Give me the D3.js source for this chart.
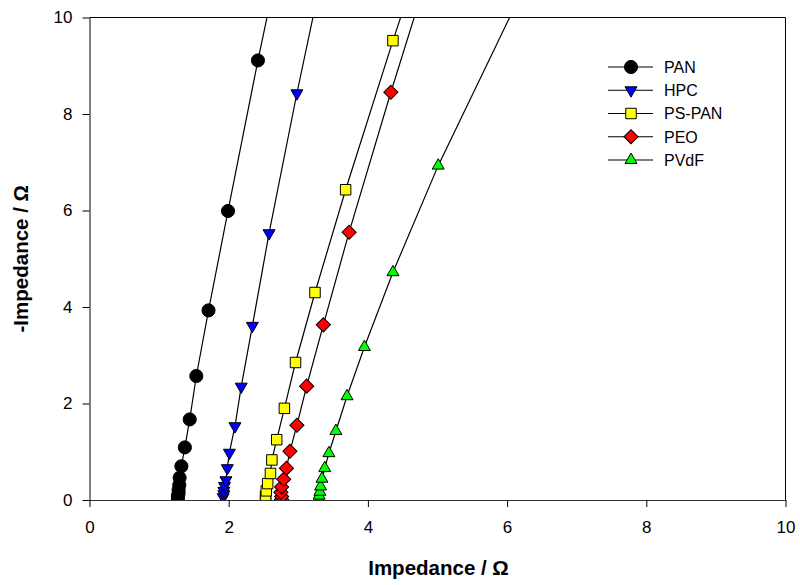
<!DOCTYPE html>
<html>
<head>
<meta charset="utf-8">
<script src="https://cdn.jsdelivr.net/npm/d3@7"></script>
<style>
  html, body { margin: 0; padding: 0; background: #fff; }
  svg { display: block; font-family: Arial, "Liberation Sans", sans-serif; }
</style>
</head>
<body>
<svg id="chart" width="800" height="585"></svg>
<script>
// Nyquist data: real impedance (x) vs. negative imaginary impedance (y), in ohms
const seriesNames = ["PAN", "HPC", "PS-PAN", "PEO", "PVdF"];

const panX = [1.27, 1.27, 1.28, 1.28, 1.29, 1.295, 1.32, 1.37, 1.44, 1.535, 1.71, 1.99, 2.42, 3.09];
const panY = [0.03, 0.08, 0.14, 0.21, 0.31, 0.46, 0.70, 1.09, 1.67, 2.57, 3.93, 5.99, 9.11, 13.7];

const hpcX = [1.92, 1.93, 1.93, 1.94, 1.96, 1.98, 2.01, 2.09, 2.18, 2.34, 2.58, 2.98, 3.62];
const hpcY = [0.06, 0.12, 0.19, 0.29, 0.41, 0.66, 0.98, 1.53, 2.35, 3.61, 5.53, 8.43, 12.8];

const psPanX = [2.53, 2.53, 2.54, 2.56, 2.60, 2.62, 2.69, 2.80, 2.96, 3.24, 3.68, 4.36, 5.41];
const psPanY = [0.01, 0.08, 0.19, 0.34, 0.55, 0.83, 1.25, 1.90, 2.85, 4.30, 6.43, 9.52, 14.1];

const peoX = [2.76, 2.76, 2.75, 2.76, 2.79, 2.83, 2.88, 2.98, 3.12, 3.36, 3.73, 4.33, 5.27];
const peoY = [0.01, 0.07, 0.16, 0.27, 0.43, 0.66, 1.01, 1.55, 2.36, 3.63, 5.55, 8.45, 12.8];

const pvdfX = [3.30, 3.30, 3.31, 3.32, 3.34, 3.38, 3.44, 3.54, 3.70, 3.95, 4.36, 5.01, 6.17];
const pvdfY = [0.02, 0.09, 0.17, 0.28, 0.44, 0.66, 0.97, 1.43, 2.15, 3.17, 4.72, 6.93, 10.4];

const xTicks = [0, 2, 4, 6, 8, 10];
const yTicks = [0, 2, 4, 6, 8, 10];

const xTitle = "Impedance / Ω";
const yTitle = "-Impedance / Ω";

// marker styles per series
const fills = ["#000000", "#0000ff", "#ffff00", "#ff0000", "#00ff00"];
const symbols = [
  { type: d3.symbolCircle, size: 135, rotate: 0 },
  { type: d3.symbolTriangle, size: 62, rotate: 180 },
  { type: d3.symbolSquare, size: 110, rotate: 0 },
  { type: d3.symbolSquare, size: 100, rotate: 45 },
  { type: d3.symbolTriangle, size: 62, rotate: 0 }
];

const xs = [panX, hpcX, psPanX, peoX, pvdfX];
const ys = [panY, hpcY, psPanY, peoY, pvdfY];
const series = seriesNames.map((name, i) => ({
  name,
  fill: fills[i],
  sym: symbols[i],
  points: xs[i].map((x, j) => ({ x, y: ys[i][j] }))
}));

const svg = d3.select("#chart");
const x = d3.scaleLinear().domain([0, 10]).range([89.5, 785.5]);
const y = d3.scaleLinear().domain([0, 10]).range([500, 17.5]);

svg.append("defs").append("clipPath").attr("id", "plotClip")
  .append("rect")
  .attr("x", x(0)).attr("y", y(10))
  .attr("width", x(10) - x(0)).attr("height", y(0) - y(10));

const plot = svg.append("g").attr("clip-path", "url(#plotClip)");

const line = d3.line().x(d => x(d.x)).y(d => y(d.y));

series.forEach(s => {
  plot.append("path")
    .datum(s.points)
    .attr("d", line)
    .attr("fill", "none")
    .attr("stroke", "#000")
    .attr("stroke-width", 1.2);
});

series.forEach(s => {
  const sym = d3.symbol().type(s.sym.type).size(s.sym.size);
  plot.selectAll(null)
    .data(s.points)
    .join("path")
    .attr("d", sym)
    .attr("transform", d => `translate(${x(d.x)},${y(d.y)}) rotate(${s.sym.rotate})`)
    .attr("fill", s.fill)
    .attr("stroke", "#000")
    .attr("stroke-width", 1);
});

// frame
svg.append("line").attr("x1", x(0)).attr("x2", x(10)).attr("y1", y(10)).attr("y2", y(10))
  .attr("stroke", "#000").attr("stroke-width", 1);
svg.append("line").attr("x1", x(10)).attr("x2", x(10)).attr("y1", y(10)).attr("y2", y(0))
  .attr("stroke", "#000").attr("stroke-width", 1);

// axes
const xAxis = svg.append("g").attr("transform", `translate(0,${y(0)})`)
  .call(d3.axisBottom(x).tickValues(xTicks).tickFormat(d3.format("d")).tickSize(7).tickPadding(14).tickSizeOuter(0));
const yAxis = svg.append("g").attr("transform", `translate(${x(0)},0)`)
  .call(d3.axisLeft(y).tickValues(yTicks).tickFormat(d3.format("d")).tickSize(7).tickPadding(10).tickSizeOuter(0));

[xAxis, yAxis].forEach(a => {
  a.select(".domain").attr("stroke", "#000").attr("stroke-width", 1);
  a.selectAll(".tick line").attr("stroke", "#000").attr("stroke-width", 1);
  a.selectAll(".tick text")
    .attr("fill", "#000")
    .style("font-family", "Arial, 'Liberation Sans', sans-serif")
    .style("font-size", "17px");
});
xAxis.select(".domain").attr("stroke", "#333");

// axis titles
svg.append("text")
  .attr("x", (x(0) + x(10)) / 2 + 1).attr("y", 575)
  .attr("text-anchor", "middle")
  .style("font-size", "20.5px").style("font-weight", "bold")
  .text(xTitle);

svg.append("text")
  .attr("transform", `translate(28,${(y(0) + y(10)) / 2}) rotate(-90)`)
  .attr("text-anchor", "middle")
  .style("font-size", "20.5px").style("font-weight", "bold")
  .text(yTitle);

// legend
const legend = svg.append("g");
const legendY = d3.scaleLinear().domain([0, 4]).range([67, 160]);
series.forEach((s, i) => {
  const g = legend.append("g").attr("transform", `translate(0,${legendY(i)})`);
  g.append("line").attr("x1", 608).attr("x2", 653).attr("y1", 0).attr("y2", 0)
    .attr("stroke", "#000").attr("stroke-width", 1.2);
  g.append("path")
    .attr("d", d3.symbol().type(s.sym.type).size(s.sym.size))
    .attr("transform", `translate(631,0) rotate(${s.sym.rotate})`)
    .attr("fill", s.fill).attr("stroke", "#000").attr("stroke-width", 1);
  g.append("text").attr("x", 664).attr("y", 0).attr("dy", "0.36em")
    .style("font-size", "16px")
    .text(s.name);
});
</script>
</body>
</html>
